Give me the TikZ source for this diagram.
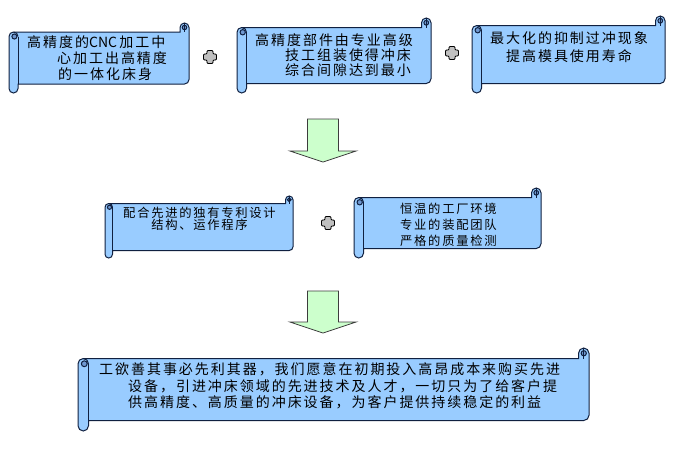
\documentclass[tikz,border=0pt]{standalone}
\usepackage{fontspec}
\usepackage{tikz}
\usetikzlibrary{positioning}
\newfontfamily\cjk[LetterSpace=14]{Noto Sans CJK SC}
\newfontfamily\cjkplain{Noto Sans CJK SC}
\newcommand{\bigcjk}{\cjk\fontsize{14}{16}\selectfont}
\newcommand{\smallcjk}{\cjk\fontsize{12.3}{16}\selectfont}
\definecolor{scrollBlue}{RGB}{153,204,255}
\definecolor{scrollDark}{RGB}{112,152,208}
\definecolor{scrollLine}{RGB}{16,32,64}
\definecolor{arrowGreen}{RGB}{204,255,204}
\definecolor{arrowLine}{RGB}{60,60,60}
\definecolor{plusGray}{RGB}{192,192,192}
\newcommand{\scrollbox}[5]{%
  \pgfmathsetmacro{\scW}{#3-#1}%
  \pgfmathsetmacro{\scH}{#4-#2}%
  \pgfmathsetmacro{\scC}{#5}%
  \pgfmathsetmacro{\scD}{#5/2}%
  \pgfmathsetmacro{\scQ}{#5/4}%
  \begin{scope}[shift={(#1,#2)}]
    \draw[scrollEdge, fill=scrollBlue] (0,{1.5*\scC}) arc[start angle=180, end angle=270, radius=\scD]
      -- ({\scW-\scC},\scC) -- ({\scW-\scC},\scD) arc[start angle=180, end angle=360, radius=\scD]
      -- (\scW,{\scH-1.5*\scC}) arc[start angle=0, end angle=90, radius=\scD]
      -- (\scC,{\scH-\scC}) -- (\scC,{\scH-\scD}) arc[start angle=0, end angle=180, radius=\scD] -- cycle;
    \draw[scrollEdge] (\scC,{\scC+\scD}) -- (\scC,{\scH-\scC});
    \draw[scrollEdge] (\scD,\scC) arc[start angle=270, end angle=360, radius=\scD];
    \draw[scrollEdge, fill=scrollDark] ({0.6*\scC},{1.5*\scC}) circle[radius={0.28*\scC}];
    \draw[scrollEdge, fill=scrollDark] ({\scW-\scD},\scD) circle[radius=\scQ];
    \draw[scrollEdge] ({\scW-\scD},0) -- ({\scW-\scD},\scC);
  \end{scope}}

\begin{document}
\begin{tikzpicture}[x=1pt, y=-1pt]

  \tikzstyle{scrollEdge} = [draw=scrollLine, line width=1pt];
  \tikzstyle{scrollText} = [font=\bigcjk, inner sep=0pt, align=left, anchor=west];
  \tikzstyle{smallText} = [font=\smallcjk, inner sep=0pt];
  \tikzstyle{plusSign} = [draw=black, fill=plusGray, line width=0.8pt, rounded corners=1pt];
  \tikzstyle{downArrow} = [draw=arrowLine, fill=arrowGreen, line width=0.8pt];

  \useasboundingbox (0,0) rectangle (693,467);

  \scrollbox{9}{23}{189}{93}{9}
  \scrollbox{237}{18}{431}{93}{9.5}
  \scrollbox{472}{16}{665}{93}{9.5}
  \scrollbox{105}{196}{293}{258}{7.5}
  \scrollbox{354}{188}{541}{258}{9.5}
  \scrollbox{78}{348}{589}{431}{10.5}

  \node[scrollText] (adv1) at (27,58) {高精度的{\cjkplain CNC}\,加工中\\\hspace*{30pt}心加工出高精度\\\hspace*{31pt}的一体化床身};
  \node[scrollText] (adv2) at (255,55.5) {高精度部件由专业高级\\[-1pt]\hspace*{30pt}技工组装使得冲床\\[-1pt]\hspace*{30pt}综合间隙达到最小};
  \node[scrollText, align=center, anchor=center] (adv3) at (569,47) {最大化的抑制过冲现象\\[2pt]提高模具使用寿命};

  \node[smallText, align=center] (cond1) at (199.5,219) {配合先进的独有专利设计\\[-3.5pt]结构、运作程序};
  \node[smallText, align=left, anchor=west] (cond2) at (400,225) {恒温的工厂环境\\专业的装配团队\\严格的质量检测};

  \node[scrollText] (goal) at (99,386) {工欲善其事必先利其器，我们愿意在初期投入高昂成本来购买先进\\[0.5pt]\hspace*{29pt}设备，引进冲床领域的先进技术及人才，一切只为了给客户提\\[0.5pt]\hspace*{29pt}供高精度、高质量的冲床设备，为客户提供持续稳定的利益};

  \draw[plusSign, shift={(210,57)}] (-3,-6.5) -- (3,-6.5) -- (3,-3) -- (6.5,-3) -- (6.5,3) -- (3,3) -- (3,6.5) -- (-3,6.5) -- (-3,3) -- (-6.5,3) -- (-6.5,-3) -- (-3,-3) -- cycle;
  \draw[plusSign, shift={(452,53)}] (-3,-6.5) -- (3,-6.5) -- (3,-3) -- (6.5,-3) -- (6.5,3) -- (3,3) -- (3,6.5) -- (-3,6.5) -- (-3,3) -- (-6.5,3) -- (-6.5,-3) -- (-3,-3) -- cycle;
  \draw[plusSign, shift={(328,223)}] (-3,-6.5) -- (3,-6.5) -- (3,-3) -- (6.5,-3) -- (6.5,3) -- (3,3) -- (3,6.5) -- (-3,6.5) -- (-3,3) -- (-6.5,3) -- (-6.5,-3) -- (-3,-3) -- cycle;

  \draw[downArrow, shift={(323,119)}] (-15.5,0) -- (15.5,0) -- (15.5,32) -- (33,32) -- (0,43) -- (-33,32) -- (-15.5,32) -- cycle;
  \draw[downArrow, shift={(323,291)}] (-15.5,0) -- (15.5,0) -- (15.5,31) -- (33,31) -- (0,42) -- (-33,31) -- (-15.5,31) -- cycle;

\end{tikzpicture}
\end{document}
